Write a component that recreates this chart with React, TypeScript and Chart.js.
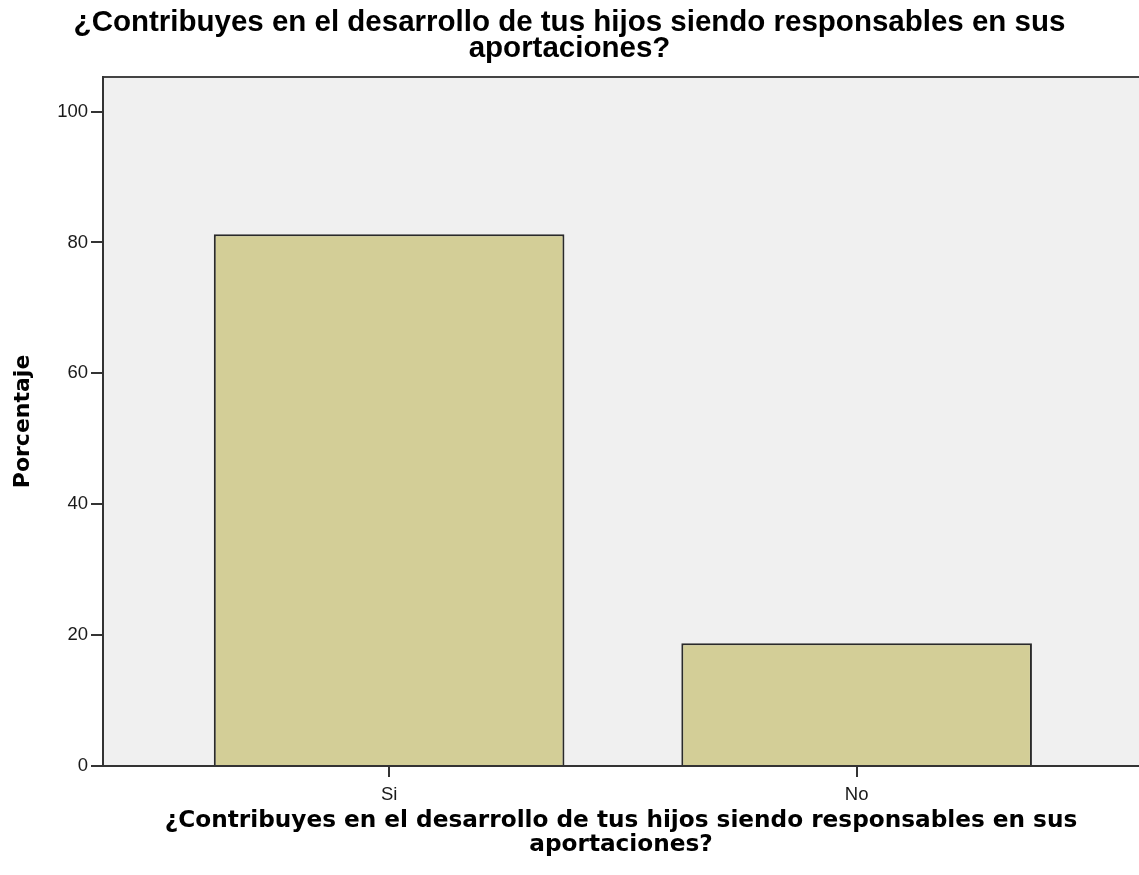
import { useEffect, useRef } from 'react';
import { Chart, registerables } from 'chart.js';

Chart.register(...registerables);

const TITLE_LINES = ['¿Contribuyes en el desarrollo de tus hijos siendo responsables en sus', 'aportaciones?'];
const X_TITLE_LINES = ['¿Contribuyes en el desarrollo de tus hijos siendo responsables en sus', 'aportaciones?'];
const Y_TITLE = 'Porcentaje';
const CATEGORIES = ['Si', 'No'];
const PERCENTAGES = [81.25, 18.75];
const Y_TICKS = [0, 20, 40, 60, 80, 100];

const plotFrame = {
  id: 'plotFrame',
  beforeDraw(chart: any) {
    const { ctx, chartArea } = chart;
    if (!chartArea) return;
    ctx.save();
    ctx.fillStyle = '#F0F0F0';
    ctx.fillRect(chartArea.left, chartArea.top, chartArea.right - chartArea.left, chartArea.bottom - chartArea.top);
    ctx.strokeStyle = '#444444';
    ctx.lineWidth = 2;
    ctx.beginPath();
    ctx.moveTo(chartArea.left, chartArea.top);
    ctx.lineTo(chartArea.right, chartArea.top);
    ctx.stroke();
    ctx.restore();
  },
};

export default function App() {
  const canvasRef = useRef<HTMLCanvasElement | null>(null);

  useEffect(() => {
    const canvas = canvasRef.current;
    if (!canvas) return;
    const chart = new Chart(canvas, {
      type: 'bar',
      data: {
        datasets: [
          {
            label: Y_TITLE,
            data: CATEGORIES.map((_, i) => ({ x: i, y: PERCENTAGES[i] })),
            backgroundColor: '#D3CE97',
            borderColor: '#2A2A2A',
            borderWidth: 2,
            barPercentage: 0.75,
            categoryPercentage: 1,
          },
        ],
      },
      options: {
        responsive: false,
        animation: false,
        events: [],
        layout: { padding: { left: 0, right: 0, top: 0, bottom: 0 } },
        plugins: {
          legend: { display: false },
          tooltip: { enabled: false },
          title: {
            display: true,
            text: TITLE_LINES,
            color: '#000000',
            font: { family: "'Liberation Sans', Arial, sans-serif", size: 29.5, weight: 'bold', lineHeight: 0.88 },
            padding: { top: 10, bottom: 15 },
          },
        },
        scales: {
          x: {
            type: 'linear',
            min: -0.612,
            max: 1.604,
            offset: false,
            afterBuildTicks: (scale: any) => {
              scale.ticks = CATEGORIES.map((_, i) => ({ value: i }));
            },
            afterFit: (scale: any) => {
              scale.height = 109;
            },
            ticks: {
              callback: (v: any) => CATEGORIES[v as number],
              color: '#1A1A1A',
              font: { family: "'Liberation Sans', Arial, sans-serif", size: 18.5 },
              padding: 7,
              maxRotation: 0,
            },
            grid: { offset: false, drawOnChartArea: false, drawTicks: true, tickLength: 11, color: '#333333', lineWidth: 2 },
            border: { display: true, color: '#333333', width: 2 },
            title: {
              display: true,
              text: X_TITLE_LINES,
              color: '#000000',
              font: { family: "'DejaVu Sans', sans-serif", size: 23.2, weight: 'bold', lineHeight: 1.03 },
              padding: { top: 0, bottom: 18 },
            },
          },
          y: {
            min: 0,
            max: 105.3,
            afterBuildTicks: (scale: any) => {
              scale.ticks = Y_TICKS.map((v) => ({ value: v }));
            },
            afterFit: (scale: any) => {
              scale.width = 103;
            },
            ticks: {
              color: '#1A1A1A',
              font: { family: "'Liberation Sans', Arial, sans-serif", size: 18.5 },
              padding: 3,
            },
            grid: { drawOnChartArea: false, drawTicks: true, tickLength: 12, color: '#333333', lineWidth: 2 },
            border: { display: true, color: '#333333', width: 2 },
            title: {
              display: true,
              text: Y_TITLE,
              color: '#000000',
              font: { family: "'DejaVu Sans', sans-serif", size: 22, weight: 'bold', lineHeight: 1.2 },
              padding: { top: 10, bottom: 0 },
            },
          },
        },
      },
      plugins: [plotFrame],
    } as any);
    return () => chart.destroy();
  }, []);

  return (
    <div style={{ position: 'fixed', left: 0, top: 0, width: 1139, height: 875, background: '#FFFFFF' }}>
      <canvas ref={canvasRef} width={1139} height={875} style={{ display: 'block' }} />
    </div>
  );
}
